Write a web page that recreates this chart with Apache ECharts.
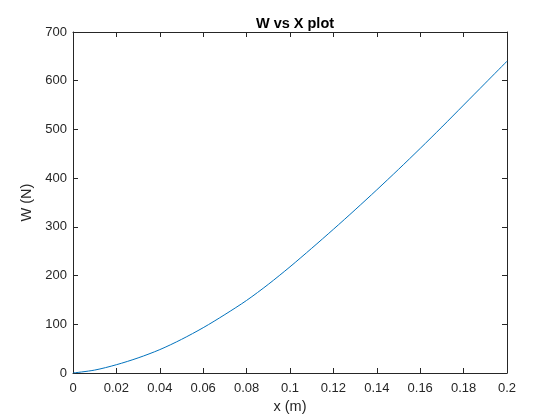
<!DOCTYPE html>
<html>
<head>
<meta charset="utf-8">
<script src="https://cdn.jsdelivr.net/npm/echarts@6/dist/echarts.min.js"></script>
<style>
  html, body { margin: 0; padding: 0; background: #fff; }
  #chart { width: 560px; height: 420px; }
</style>
</head>
<body>
<div id="chart"></div>
<script>
// values
var xs = [0, 0.01, 0.02, 0.03, 0.04, 0.05, 0.06, 0.07, 0.08, 0.09, 0.10,
          0.11, 0.12, 0.13, 0.14, 0.15, 0.16, 0.17, 0.18, 0.19, 0.20];
var ws = [0, 6, 17, 31, 48, 69, 93, 120, 149, 182, 218,
          256, 295, 335, 376, 418, 461, 505, 550, 595, 640];

var axisColor = '#262626';
var font = 'Liberation Sans, Arial, sans-serif';

var points = [];
for (var i = 0; i < xs.length; i++) {
  points.push([xs[i], ws[i]]);
}

var chart = echarts.init(document.getElementById('chart'));

// plain axis used for all four sides of the box
function boxAxis(pos, isX) {
  return {
    type: 'value',
    position: pos,
    min: 0,
    max: isX ? 0.2 : 700,
    interval: isX ? 0.02 : 100,
    axisLine: { show: true, onZero: false, lineStyle: { color: axisColor, width: 1 } },
    axisTick: { show: true, inside: true, length: 5, lineStyle: { color: axisColor } },
    axisLabel: { show: false },
    splitLine: { show: false }
  };
}

var xBottom = boxAxis('bottom', true);
xBottom.name = 'x (m)';
xBottom.nameLocation = 'middle';
xBottom.nameGap = 26;
xBottom.nameTextStyle = { color: axisColor, fontSize: 14.5, fontFamily: font };
xBottom.axisLabel = { show: true, color: axisColor, fontSize: 13, fontFamily: font, margin: 9,
  formatter: function (v) { return String(+v.toFixed(2)); } };

var yLeft = boxAxis('left', false);
yLeft.name = 'W (N)';
yLeft.nameLocation = 'middle';
yLeft.nameGap = 31;
yLeft.nameTextStyle = { color: axisColor, fontSize: 14.5, fontFamily: font };
yLeft.axisLabel = { show: true, color: axisColor, fontSize: 13, fontFamily: font, margin: 6 };

var option = {
  backgroundColor: '#fff',
  animation: false,
  title: {
    text: 'W vs X plot',
    left: 290,
    textAlign: 'center',
    top: 11,
    textStyle: { color: '#000', fontSize: 14.5, fontWeight: 'bold', fontFamily: font }
  },
  grid: { left: 73, right: 53, top: 32, bottom: 47 },
  xAxis: [xBottom, boxAxis('top', true)],
  yAxis: [yLeft, boxAxis('right', false)],
  series: [
    {
      type: 'line',
      data: points,
      smooth: 0.3,
      showSymbol: false,
      lineStyle: { color: '#0072BD', width: 1 },
      xAxisIndex: 0,
      yAxisIndex: 0
    }
  ]
};
chart.setOption(option);
</script>
</body>
</html>
